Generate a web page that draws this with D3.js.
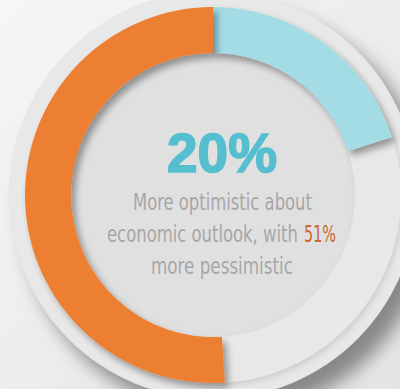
<!DOCTYPE html>
<html>
<head>
<meta charset="utf-8">
<script src="https://cdn.jsdelivr.net/npm/d3@7"></script>
<style>
  html, body { margin: 0; padding: 0; background: #f2f2f2; }
  svg { display: block; }
</style>
</head>
<body>
<div id="chart"></div>
<script>
// data
const categories = ["More optimistic", "Neither", "More pessimistic"];
const shares = [20, 29, 51];
const sliceColors = ["#a4dce6", "#e8e8e8", "#ed7f32"];
const headline = "20%";
const captionLines = ["More optimistic about", "economic outlook, with", "more pessimistic"];
const highlight = "51%";

const width = 400;
const height = 389;
const cx = 213, cy = 195;
const outerR = 188, innerR = 142, plateR = 204;

const svg = d3.select("#chart").append("svg")
  .attr("width", width)
  .attr("height", height);

const defs = svg.append("defs");

const bg = defs.append("linearGradient").attr("id", "bg")
  .attr("x1", 0).attr("y1", 0).attr("x2", 1).attr("y2", 1);
bg.append("stop").attr("offset", 0).attr("stop-color", "#f6f6f6");
bg.append("stop").attr("offset", 1).attr("stop-color", "#e4e4e4");

const plateShadow = defs.append("filter").attr("id", "plateShadow")
  .attr("x", "-30%").attr("y", "-30%").attr("width", "160%").attr("height", "160%");
plateShadow.append("feDropShadow")
  .attr("dx", 14).attr("dy", 16).attr("stdDeviation", 9)
  .attr("flood-color", "#6f6f6f").attr("flood-opacity", 0.8);

const sliceShadow = defs.append("filter").attr("id", "sliceShadow")
  .attr("x", "-20%").attr("y", "-20%").attr("width", "140%").attr("height", "140%");
sliceShadow.append("feDropShadow")
  .attr("dx", 4).attr("dy", 5).attr("stdDeviation", 3.5)
  .attr("flood-color", "#000").attr("flood-opacity", 0.36);

const softShadow = defs.append("filter").attr("id", "softShadow")
  .attr("x", "-20%").attr("y", "-20%").attr("width", "140%").attr("height", "140%");
softShadow.append("feDropShadow")
  .attr("dx", 2).attr("dy", 3).attr("stdDeviation", 3)
  .attr("flood-color", "#000").attr("flood-opacity", 0.12);

svg.append("rect").attr("width", width).attr("height", height).attr("fill", "url(#bg)");

const g = svg.append("g").attr("transform", `translate(${cx},${cy})`);

// plate behind the ring
g.append("circle").attr("r", plateR).attr("fill", "#e5e5e5").attr("filter", "url(#plateShadow)");
g.append("circle").attr("r", plateR - 1).attr("fill", "#e8e8e8");
g.append("circle").attr("r", innerR + 2).attr("fill", "#e0e0e0");

const pie = d3.pie().sort(null).value(d => d)(shares);
const arc = d3.arc().innerRadius(innerR).outerRadius(outerR);

// neutral slice first, coloured ones raised above it
g.append("path")
  .attr("d", arc(pie[1]))
  .attr("fill", sliceColors[1])
  .attr("filter", "url(#softShadow)");

[0, 2].forEach(i => {
  g.append("path")
    .attr("d", arc(pie[i]))
    .attr("fill", sliceColors[i])
    .attr("filter", "url(#sliceShadow)")
    .append("title").text(categories[i] + ": " + shares[i] + "%");
});

// text in the middle
const tx = 222;
svg.append("text")
  .attr("x", tx).attr("y", 172)
  .attr("text-anchor", "middle")
  .attr("font-family", "'Liberation Sans', Arial, sans-serif")
  .attr("font-weight", "bold")
  .attr("font-size", 56)
  .attr("textLength", 110)
  .attr("lengthAdjust", "spacingAndGlyphs")
  .attr("fill", "#55bfd0")
  .attr("stroke", "#55bfd0")
  .attr("stroke-width", 1.6)
  .text(headline);

// condensed caption: size the font to the width, then stretch it tall
const captionFont = "'DejaVu Sans Condensed', 'Liberation Sans Narrow', 'Roboto', sans-serif";
function fitted(x, y, w, s, color) {
  const t = svg.append("text")
    .attr("font-family", captionFont)
    .attr("font-size", 20)
    .attr("fill", color)
    .text(s);
  const fs = 20 * w / t.node().getComputedTextLength();
  const k = 23 / fs;
  t.attr("font-size", fs)
    .attr("transform", `translate(${x},${y}) scale(1,${k})`);
}
const lineY = [210, 242, 274];
const lineX = [133, 107, 151];
const lineW = [179, 191, 142];
captionLines.forEach((s, i) => fitted(lineX[i], lineY[i], lineW[i], s, "#a7a7a7"));
fitted(304, lineY[1], 32, highlight, "#c9682c");
</script>
</body>
</html>
